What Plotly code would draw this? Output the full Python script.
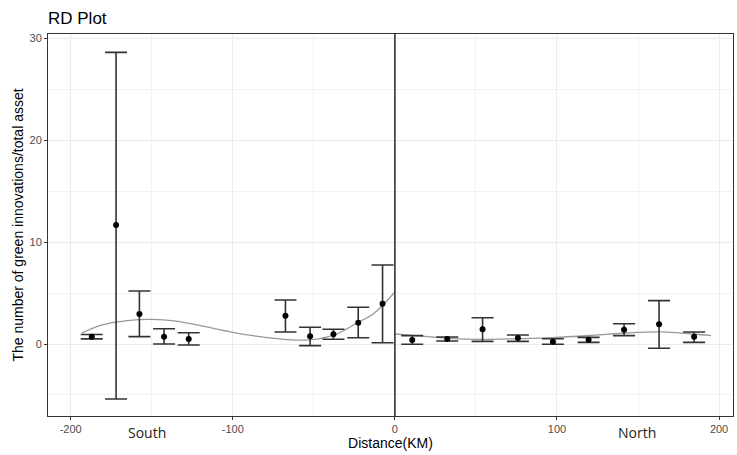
import plotly.graph_objects as go

# Binned means (left = South, right = North)
left_x = [-187, -172, -157.6, -142.4, -127.2, -67.5, -52.3, -37.9, -22.6, -7.6]
left_y = [0.72, 11.67, 2.95, 0.72, 0.49, 2.76, 0.75, 0.95, 2.09, 3.95]
left_hi = [0.93, 28.6, 5.2, 1.5, 1.1, 4.31, 1.64, 1.44, 3.6, 7.75]
left_lo = [0.5, -5.4, 0.72, 0.0, -0.1, 1.18, -0.16, 0.46, 0.62, 0.12]

right_x = [10.7, 32.3, 54.1, 75.9, 97.5, 119.5, 141.4, 163, 184.6]
right_y = [0.39, 0.49, 1.44, 0.59, 0.23, 0.42, 1.4, 1.93, 0.72]
right_hi = [0.82, 0.69, 2.58, 0.88, 0.52, 0.65, 1.99, 4.25, 1.18]
right_lo = [-0.03, 0.29, 0.26, 0.26, -0.03, 0.16, 0.82, -0.42, 0.16]

# Fitted polynomial curves
left_curve_x = [-193, -180, -165, -150, -135, -120, -100, -80, -60, -48, -36, -23, -13, 0]
left_curve_y = [1.1, 1.9, 2.3, 2.42, 2.25, 1.8, 1.15, 0.65, 0.39, 0.48, 0.98, 2.09, 3.0, 5.1]
right_curve_x = [0, 16, 33, 53, 76, 97, 122, 143, 164, 184, 195]
right_curve_y = [0.98, 0.78, 0.55, 0.45, 0.52, 0.62, 0.85, 1.08, 1.18, 0.98, 0.82]

x_ticks = [-200, -100, 0, 100, 200]
y_ticks = [0, 10, 20, 30]

fig = go.Figure()

for cx, cy in [(left_curve_x, left_curve_y), (right_curve_x, right_curve_y)]:
    fig.add_trace(go.Scatter(x=cx, y=cy, mode="lines", line=dict(color="#999999", width=1.3, shape="spline"),
                             showlegend=False, hoverinfo="skip"))

for xs, ys, hi, lo in [(left_x, left_y, left_hi, left_lo), (right_x, right_y, right_hi, right_lo)]:
    fig.add_trace(go.Scatter(
        x=xs, y=ys, mode="markers",
        marker=dict(color="black", size=6),
        error_y=dict(type="data", symmetric=False,
                     array=[h - y for h, y in zip(hi, ys)],
                     arrayminus=[y - l for y, l in zip(ys, lo)],
                     color="#333333", thickness=1.6, width=11),
        showlegend=False))

fig.add_shape(type="line", x0=0, x1=0, y0=0, y1=1, xref="x", yref="paper",
              line=dict(color="#333333", width=1.6))

fig.add_annotation(x=-153, y=-0.042, xref="x", yref="paper", text="South", showarrow=False,
                   font=dict(family="Open Sans", size=14, color="#222222"), yanchor="middle")
fig.add_annotation(x=149.6, y=-0.042, xref="x", yref="paper", text="North", showarrow=False,
                   font=dict(family="Open Sans", size=14, color="#222222"), yanchor="middle")

axis_common = dict(
    showgrid=True, gridcolor="#ebebeb", gridwidth=1,
    zeroline=False, showline=True, mirror=True, linecolor="#333333", linewidth=1,
    ticks="outside", ticklen=3, tickcolor="#333333",
    tickfont=dict(family="Liberation Sans, Arial", size=11, color="#4d4d4d"),
)

fig.update_layout(
    width=737, height=455,
    paper_bgcolor="white", plot_bgcolor="white",
    margin=dict(l=48, r=4, t=34, b=39),
    title=dict(text="RD Plot", x=48 / 737, xanchor="left", y=1 - 18 / 455, yanchor="middle",
               font=dict(family="Liberation Sans, Arial", size=17, color="black")),
    xaxis=dict(range=[-214, 208.6], tickvals=x_ticks, ticktext=[str(v) for v in x_ticks],
               minor=dict(tickvals=[-150, -50, 50, 150], showgrid=True, gridcolor="#f2f2f2", gridwidth=0.6),
               title=dict(text="Distance(KM)", standoff=3,
                          font=dict(family="Liberation Sans, Arial", size=14, color="black")),
               **axis_common),
    yaxis=dict(range=[-7.06, 30.4], tickvals=y_ticks, ticktext=[str(v) for v in y_ticks],
               minor=dict(tickvals=[-5, 5, 15, 25], showgrid=True, gridcolor="#f2f2f2", gridwidth=0.6),
               title=dict(text="The number of green innovations/total asset", standoff=2,
                          font=dict(family="Liberation Sans, Arial", size=14, color="black")),
               **axis_common),
)

fig.write_html("out.html", config={"displayModeBar": False},
               post_script="document.body.style.margin='0';document.body.style.overflow='hidden';")
